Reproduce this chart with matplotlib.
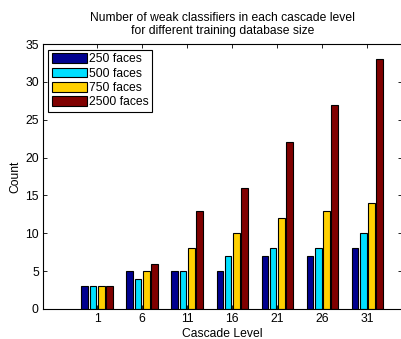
import matplotlib.pyplot as plt
import numpy as np

plt.rcParams['font.family'] = ['Liberation Sans', 'DejaVu Sans']

levels = [1, 6, 11, 16, 21, 26, 31]
faces250 = [3, 5, 5, 5, 7, 7, 8]
faces500 = [3, 4, 5, 7, 8, 8, 10]
faces750 = [3, 5, 8, 10, 12, 13, 14]
faces2500 = [3, 6, 13, 16, 22, 27, 33]
series = [faces250, faces500, faces750, faces2500]
names = ['250 faces', '500 faces', '750 faces', '2500 faces']
colors = ['#00008f', '#00dfff', '#ffd000', '#800000']

fig = plt.figure(figsize=(4.02, 3.39), dpi=100)
ax = fig.add_axes([0.107, 0.0885, 0.892, 0.7815])

x = np.array(levels, dtype=float)
offsets = [-1.37, -0.46, 0.46, 1.37]
for vals, name, c, off in zip(series, names, colors, offsets):
    ax.bar(x + off, vals, width=0.74, color=c, edgecolor='black',
           linewidth=0.8, label=name)

fs = 8.7
ax.set_xlim(-5, 34.8)
ax.set_ylim(0, 35)
ax.set_xticks(levels)
ax.set_yticks(range(0, 36, 5))
ax.tick_params(direction='in', top=True, right=True, labelsize=fs, length=3,
               width=0.6, pad=3)
for s in ax.spines.values():
    s.set_linewidth(0.8)

ax.set_xlabel('Cascade Level', fontsize=fs, labelpad=2)
ax.set_ylabel('Count', fontsize=fs, labelpad=3)
ax.set_title('Number of weak classifiers in each cascade level\nfor different training database size',
             fontsize=fs, pad=7, linespacing=1.15)

leg = ax.legend(loc='upper left', fontsize=fs, fancybox=False, edgecolor='black',
                handlelength=2.85, handleheight=0.85, handletextpad=0.2,
                labelspacing=0.2, borderpad=0.3, borderaxespad=0.45,
                framealpha=1)
leg.get_frame().set_linewidth(0.8)

fig.savefig('out.png', dpi=100)
